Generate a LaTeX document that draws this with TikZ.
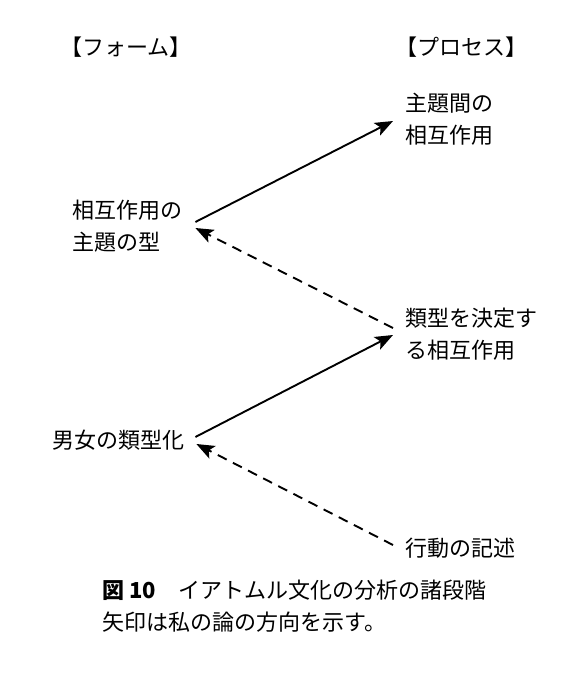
\documentclass[tikz,border=0pt]{standalone}
\usepackage{fontspec}
\setmainfont{Noto Sans CJK JP}
\usetikzlibrary{arrows.meta}

\begin{document}
\begin{tikzpicture}[x=1pt,y=-1pt]
        \useasboundingbox (0,0) rectangle (577,680);
        \begin{scope}[every node/.style={anchor=west,align=left,inner sep=0pt,font=\fontsize{22}{32}\selectfont}]
                \node (Fh) at (60,47) {【フォーム】};
                \node (Ph) at (395,47) {【プロセス】};
                \node (P1) at (405,119) {主題間の\\相互作用};
                \node (F1) at (72,226) {相互作用の\\主題の型};
                \node (P2) at (405,334) {類型を決定す\\る相互作用};
                \node (F2) at (52,440) {男女の類型化};
                \node (P3) at (405,548) {行動の記述};
                \node (Cap) at (102,606) {{\bfseries 図 10}　イアトムル文化の分析の諸段階\\矢印は私の論の方向を示す。};
        \end{scope}
        \begin{scope}[every path/.style={line width=1.9pt, ->, >={Stealth[length=18pt,width=14pt,inset=4pt]}}]
                \path ([xshift=13pt,yshift=4pt]F1.east) edge ([xshift=-12pt,yshift=-2pt]P1.west);
                \path ([xshift=-12pt,yshift=6pt]P2.west) edge [dash pattern=on 10pt off 7pt] ([xshift=13pt,yshift=-2pt]F1.east);
                \path ([xshift=11pt,yshift=3pt]F2.east) edge ([xshift=-12pt,yshift=-1pt]P2.west);
                \path ([xshift=-12pt,yshift=3pt]P3.west) edge [dash pattern=on 10pt off 7pt] ([xshift=12pt,yshift=-4pt]F2.east);
        \end{scope}
\end{tikzpicture}
\end{document}
